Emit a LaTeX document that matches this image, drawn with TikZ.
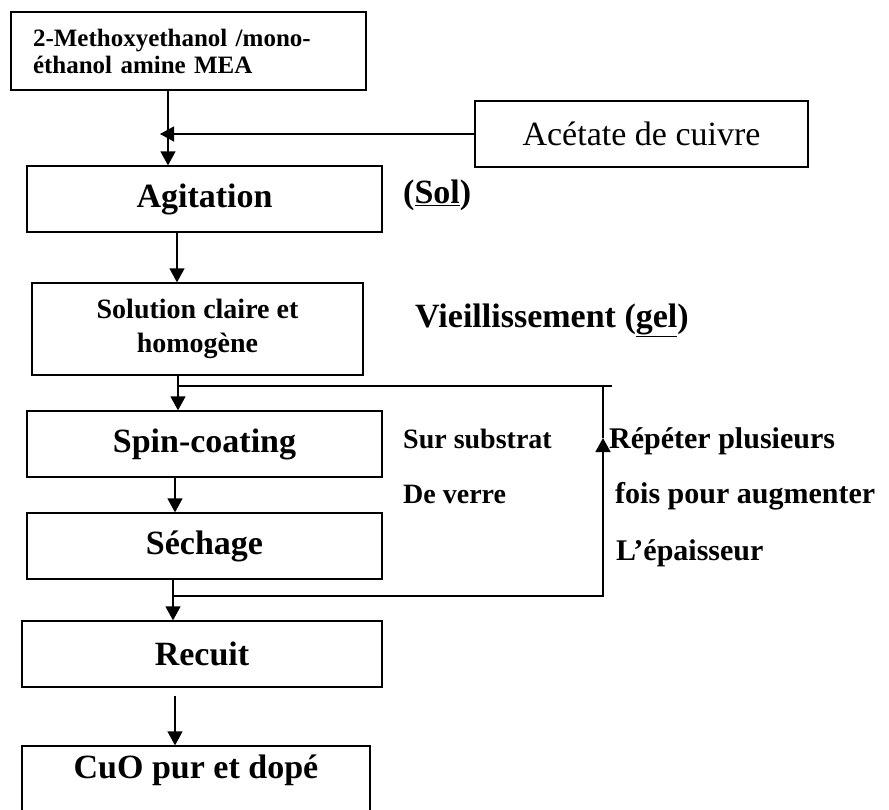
\documentclass[tikz,border=0pt]{standalone}
\usepackage{fontspec}
\setmainfont{Liberation Serif}
\usetikzlibrary{positioning, arrows.meta}

\newcommand{\taille}[2]{\fontsize{#1}{#2}\selectfont}

\begin{document}
\begin{tikzpicture}[x=1pt, y=-1pt,
    boite/.style={draw, line width=1.3pt, minimum height=66pt, align=center, font=\bfseries\taille{34}{40}},
    fleche/.style={line width=1.3pt, -{Triangle[width=15pt,length=14pt]}},
    trait/.style={line width=1.3pt},
    note/.style={anchor=base west, inner sep=0pt, font=\bfseries\taille{28}{34}}]
  \useasboundingbox (0,0) rectangle (889,809);
  \clip (0,0) rectangle (889,809);

  % etapes du procede sol-gel
  \node[boite, minimum width=355pt, minimum height=78pt, text width=311pt, inner xsep=22pt,
        align=left, font=\bfseries\taille{25}{27}] (mea) at (188.5,51)
    {2-Methoxyethanol /mono-\\éthanol amine MEA};
  \node[boite, minimum width=333pt, font=\taille{34}{40}] (acetate) at (641.5,134) {Acétate de cuivre};
  \node[boite, minimum width=355pt] (agitation) at (204.5,199) {Agitation};
  \node[boite, minimum width=331pt, minimum height=92pt, font=\bfseries\taille{28}{34}] (solution) at (197.5,329)
    {Solution claire et\\homogène};
  \node[boite, minimum width=355pt] (spin) at (204.5,444) {Spin-coating};
  \node[boite, minimum width=355pt] (sechage) at (204.5,546) {Séchage};
  \node[boite, minimum width=360pt] (recuit) at (202,654) {Recuit};
  \node[boite, minimum width=348pt, text height=26pt, text depth=28pt, inner ysep=6pt] (cuo) at (196,779)
    {CuO pur et dopé};

  % fleches
  \coordinate (mix) at (160,134);
  \draw[fleche] (mea.south -| 168,0) -- (agitation.north -| 168,0);
  \draw[fleche] (acetate.west) -- (mix);
  \draw[fleche] (agitation.south -| 177,0) -- (solution.north -| 177,0);
  \draw[fleche] (solution.south -| 178,0) -- (spin.north -| 178,0);
  \draw[fleche] (spin.south -| 175,0) -- (sechage.north -| 175,0);
  \draw[fleche] (sechage.south -| 173,0) -- (recuit.north -| 173,0);
  \draw[fleche, shorten <=8pt] (recuit.south -| 175,0) -- (cuo.north -| 175,0);

  % boucle de repetition
  \coordinate (retour) at (178,386);
  \coordinate (depart) at (172,596);
  \coordinate (pointe) at (603,438);
  \draw[fleche] (depart) -| (pointe);
  \draw[trait] (pointe) -- (pointe |- retour);
  \draw[trait] (retour) -- (612,386);

  % annotations
  \node[note, font=\bfseries\taille{34}{40}] (sol) at (403,203) {(\underline{Sol})};
  \node[note, font=\bfseries\taille{34}{40}] (gel) at (415,327) {Vieillissement (\underline{gel})};
  \node[note] (substrat) at (403,448) {Sur substrat};
  \node[note] (verre) at (403,503) {De verre};
  \node[note, font=\bfseries\taille{30}{36}] (repeter) at (609,448) {Répéter plusieurs};
  \node[note, font=\bfseries\taille{30}{36}] (fois) at (615,503) {fois pour augmenter};
  \node[note, font=\bfseries\taille{30}{36}] (epaisseur) at (616,560) {L’épaisseur};
\end{tikzpicture}
\end{document}
